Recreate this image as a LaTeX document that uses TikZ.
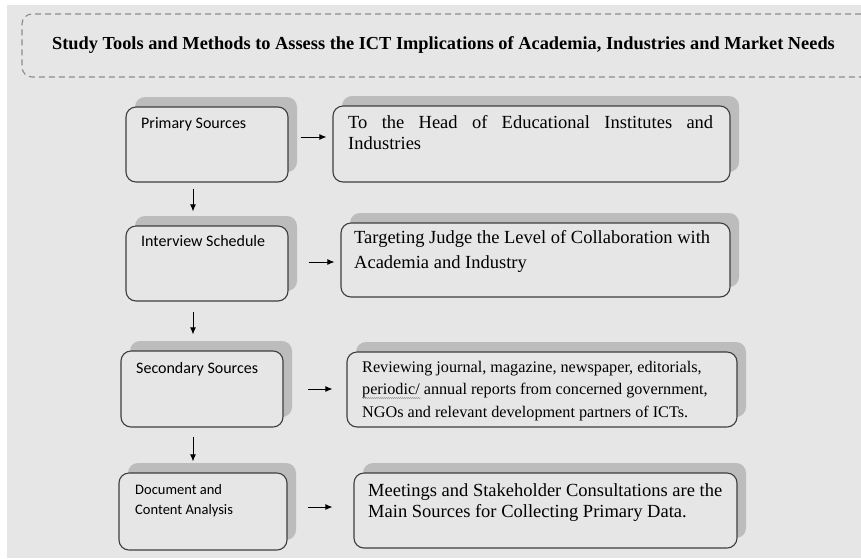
\documentclass[tikz,border=0pt]{standalone}
\usepackage{fontspec}
\setmainfont{Liberation Serif}
\newfontfamily\sidefont{Carlito}
\usetikzlibrary{arrows.meta,positioning,shadows,decorations.pathmorphing}
\definecolor{PaperGray}{RGB}{230,230,230}
\definecolor{ShadowGray}{RGB}{188,188,188}
\definecolor{EdgeGray}{RGB}{62,62,62}
\definecolor{DashGray}{RGB}{140,140,140}

\begin{document}
\begin{tikzpicture}[x=1pt,y=-1pt,>={Latex[length=7pt,width=6pt]},
  box/.style={draw=EdgeGray,line width=1.1pt,fill=PaperGray,rounded corners=10pt,
    drop shadow={shadow xshift=9pt,shadow yshift=10pt,fill=ShadowGray,opacity=1}},
  tag/.style={anchor=north west,inner sep=0pt,align=left,font=\sidefont\fontsize{16}{19}\selectfont},
  txt/.style={anchor=north west,inner sep=0pt,align=left,font=\fontsize{18.5}{21}\selectfont},
  arr/.style={->,line width=1pt,black}]
\useasboundingbox (0,0) rectangle (861,558);
\fill[PaperGray] (7,5) rectangle (861,558);

% heading strip, open on the right
\draw[DashGray,line width=1.1pt,dash pattern=on 6pt off 4pt,rounded corners=10pt]
  (861,14) -| (22,77) -- (861,77);
\node[anchor=base,inner sep=0pt,font=\bfseries\fontsize{18.35}{22}\selectfont] (title) at (443.5,49.5)
  {Study Tools and Methods to Assess the ICT Implications of Academia, Industries and Market Needs};

% left column
\node[box,minimum width=162pt,minimum height=75pt] (l1) at (207,144.5) {};
\node[box,minimum width=162pt,minimum height=75pt] (l2) at (207,263.5) {};
\node[box,minimum width=162pt,minimum height=76pt] (l3) at (202,389) {};
\node[box,minimum width=168pt,minimum height=77pt] (l4) at (203,511.5) {};
\node[tag] (l1t) at (141,117.7) {Primary Sources};
\node[tag] (l2t) at (141,235) {Interview Schedule};
\node[tag] (l3t) at (136,362) {Secondary Sources};
\node[tag,font=\sidefont\fontsize{14.5}{20}\selectfont] (l4t) at (135,484) {Document and\\Content Analysis};

% right column
\node[box,minimum width=397pt,minimum height=76pt] (r1) at (531.5,144) {};
\node[box,minimum width=389pt,minimum height=74pt] (r2) at (535.5,260) {};
\node[box,minimum width=390pt,minimum height=75pt] (r3) at (542,389.5) {};
\node[box,minimum width=383pt,minimum height=75pt] (r4) at (545.5,510.5) {};
\node[txt,text width=365pt,align=justify] (r1t) at (348,115.4)
  {To the Head of Educational Institutes and\linebreak Industries};
\node[txt,font=\fontsize{18.5}{25}\selectfont] (r2t) at (354,230.4)
  {Targeting Judge the Level of Collaboration with\\Academia and Industry};
\node[txt,font=\fontsize{16.2}{22.5}\selectfont] (r3t) at (362,361)
  {Reviewing journal, magazine, newspaper, editorials,\\periodic/ annual reports from concerned government,\\NGOs and relevant development partners of ICTs.};
\node[txt] (r4t) at (368,483.4)
  {Meetings and Stakeholder Consultations are the\\Main Sources for Collecting Primary Data.};
% spelling squiggle under "periodic/"
\draw[gray,line width=.4pt,decorate,decoration={snake,amplitude=.5pt,segment length=2pt}]
  (362,398) -- (421,398);

% arrows across
\draw[arr] ([xshift=12pt,yshift=7.5pt]l1.east) -- ([xshift=-6pt,yshift=7pt]r1.west);
\draw[arr] ([xshift=20pt,yshift=1.5pt]l2.east) -- ([xshift=-6pt,yshift=-2pt]r2.west);
\draw[arr] ([xshift=24pt]l3.east) -- ([xshift=-14pt,yshift=.5pt]r3.west);
\draw[arr] ([xshift=20pt,yshift=4.5pt]l4.east) -- ([xshift=-21pt,yshift=3.5pt]r4.west);

% arrows down
\draw[arr] ([xshift=-14pt,yshift=-6pt]l1.south) -- ([xshift=-14pt,yshift=14pt]l2.north);
\draw[arr] ([xshift=-14pt,yshift=-10pt]l2.south) -- ([xshift=-9pt,yshift=16pt]l3.north);
\draw[arr] ([xshift=-9pt,yshift=-9pt]l3.south) -- ([xshift=-10pt,yshift=11pt]l4.north);
\end{tikzpicture}
\end{document}
